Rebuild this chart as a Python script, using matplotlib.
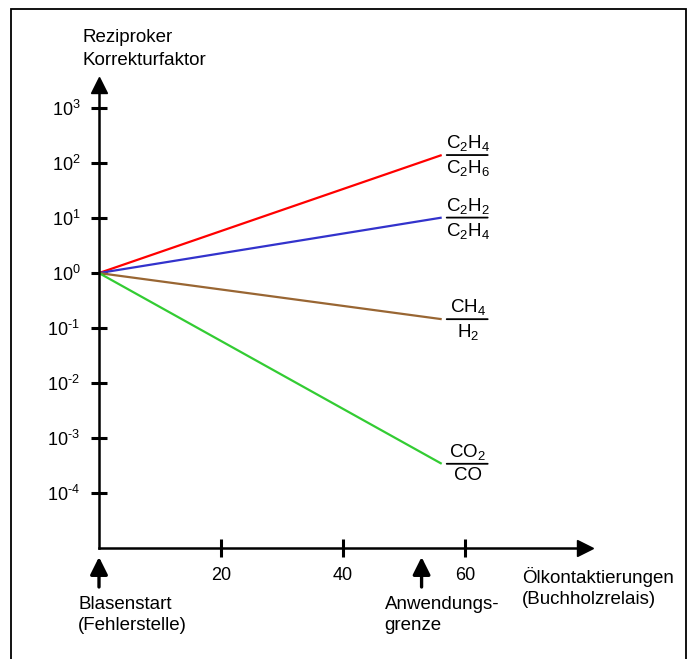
import matplotlib.pyplot as plt
from matplotlib.transforms import offset_copy
from matplotlib.patches import Rectangle

plt.rcParams['font.family'] = ['Liberation Sans', 'DejaVu Sans']
plt.rcParams['mathtext.default'] = 'regular'

# data
x_start = 0
x_end = 56.2
ratio_num = ['C$_2$H$_4$', 'C$_2$H$_2$', 'CH$_4$', 'CO$_2$']
ratio_den = ['C$_2$H$_6$', 'C$_2$H$_4$', 'H$_2$', 'CO']
y_end = [140, 10.2, 0.145, 3.4e-4]
colors = ['#ff0000', '#3333cc', '#996633', '#33cc33']

y_ticks = [1e-4, 1e-3, 1e-2, 1e-1, 1, 10, 100, 1000]
y_ticklabels = ['$10^{\u20104}$', '$10^{\u20103}$', '$10^{\u20102}$', '$10^{\u20101}$',
                '$10^{0}$', '$10^{1}$', '$10^{2}$', '$10^{3}$']
x_ticks = [20, 40, 60]
marker_x = [0, 52.9]
marker_text = ['Blasenstart\n(Fehlerstelle)', 'Anwendungs-\ngrenze']

fs = 13.5

fig = plt.figure(figsize=(6.9, 6.59), dpi=100)
ax = fig.add_axes([99 / 690, 111 / 659, 486 / 690, 463 / 659])

for yv, c in zip(y_end, colors):
    ax.plot([x_start, x_end], [1, yv], color=c, lw=1.6, solid_capstyle='butt')

ax.set_yscale('log')
ax.set_xlim(0, 79.7)
ax.set_ylim(1e-5, 10 ** 3.42)
ax.set_yticks(y_ticks)
ax.set_yticklabels(y_ticklabels)
ax.yaxis.set_minor_locator(plt.NullLocator())
ax.set_xticks(x_ticks)
ax.set_xticklabels([str(t) for t in x_ticks])
ax.tick_params(axis='y', direction='inout', length=11, width=2.2, pad=8, labelsize=fs - 0.5)
ax.tick_params(axis='x', direction='inout', length=13, width=2.2, pad=7, labelsize=fs - 0.5)

for s in ['top', 'right']:
    ax.spines[s].set_visible(False)
for s in ['left', 'bottom']:
    ax.spines[s].set_linewidth(1.8)

# axis arrow heads
ax.plot(1, 0, '>k', ms=11, transform=ax.transAxes, clip_on=False)
ax.plot(0, 1, '^k', ms=11, transform=ax.transAxes, clip_on=False)

ax.text(-16 / 486, 1 + 56 / 463, 'Reziproker\nKorrekturfaktor', transform=ax.transAxes,
        ha='left', va='top', fontsize=fs, linespacing=1.45)
ax.text(1 - 63 / 486, -19 / 463, 'Ölkontaktierungen\n(Buchholzrelais)', transform=ax.transAxes,
        ha='left', va='top', fontsize=fs, linespacing=1.33)

# fraction labels at line ends
for num, den, yv in zip(ratio_num, ratio_den, y_end):
    tr_a = offset_copy(ax.transData, fig=fig, x=5, y=0, units='dots')
    tr_b = offset_copy(ax.transData, fig=fig, x=46, y=0, units='dots')
    ax.annotate('', xy=(x_end, yv), xycoords=tr_b, xytext=(x_end, yv), textcoords=tr_a,
                arrowprops=dict(arrowstyle='-', lw=1.3, color='k', shrinkA=0, shrinkB=0))
    ax.annotate(num, xy=(x_end, yv), xytext=(26, 2), textcoords='offset pixels',
                ha='center', va='bottom', fontsize=fs)
    ax.annotate(den, xy=(x_end, yv), xytext=(26, -3), textcoords='offset pixels',
                ha='center', va='top', fontsize=fs)

# event markers below the axis
xt = ax.get_xaxis_transform()
for xm, txt, dx in zip(marker_x, marker_text, [-21, -37]):
    tr_top = offset_copy(xt, fig=fig, x=0, y=-9, units='dots')
    tr_bot = offset_copy(xt, fig=fig, x=0, y=-39, units='dots')
    ax.annotate('', xy=(xm, 0), xycoords=tr_top, xytext=(xm, 0), textcoords=tr_bot,
                arrowprops=dict(arrowstyle='-|>,head_width=0.35,head_length=0.7', lw=2.4,
                                color='k', mutation_scale=15, shrinkA=0, shrinkB=0),
                annotation_clip=False)
    ax.annotate(txt, xy=(xm, 0), xycoords=xt, xytext=(dx, -48), textcoords='offset pixels',
                ha='left', va='top', fontsize=fs, linespacing=1.33, annotation_clip=False)

# frame around the figure
fig.patches.append(Rectangle((11 / 690, -0.05), 675 / 690, 1.05 - 9 / 659, transform=fig.transFigure,
                             fill=False, lw=1.3, edgecolor='k'))

fig.savefig('out.png', dpi=100)
